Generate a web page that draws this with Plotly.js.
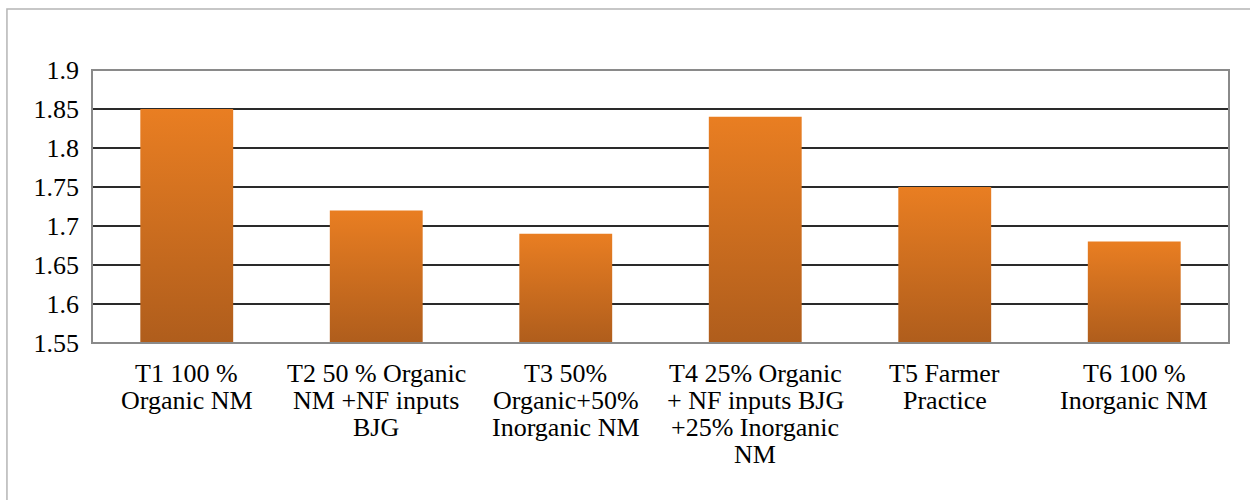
<!DOCTYPE html>
<html>
<head>
<meta charset="utf-8">
<script src="https://cdn.plot.ly/plotly-3.0.1.min.js"></script>
<style>
html,body{margin:0;padding:0;background:#fff;}
</style>
</head>
<body>
<div id="chart" style="width:1250px;height:500px"></div>
<script>
const categories = [
  "T1 100 %<br>Organic NM",
  "T2 50 % Organic<br>NM +NF inputs<br>BJG",
  "T3 50%<br>Organic+50%<br>Inorganic NM",
  "T4 25% Organic<br>+ NF inputs BJG<br>+25% Inorganic<br>NM",
  "T5 Farmer<br>Practice",
  "T6 100 %<br>Inorganic NM"
];
const values = [1.85, 1.72, 1.69, 1.84, 1.75, 1.68];
const yTicks = [1.55, 1.6, 1.65, 1.7, 1.75, 1.8, 1.85, 1.9];
const yTickLabels = ["1.55", "1.6", "1.65", "1.7", "1.75", "1.8", "1.85", "1.9"];
const yBase = 1.55;

const FAMILY = "Times New Roman";
function mkFont() { return {family: FAMILY, size: 26, color: "black"}; }

const trace = {
  type: "bar",
  x: categories,
  y: values.map(v => v - yBase),
  base: yBase,
  width: 0.49,
  marker: {color: "#CC6C20", line: {width: 0}},
  hoverinfo: "x+y"
};

// category labels drawn line by line (tight line spacing like the reference)
const annotations = [];
categories.forEach(function (cat) {
  cat.split("<br>").forEach(function (line, j) {
    annotations.push({
      x: cat, xref: "x", y: 0, yref: "paper",
      text: line, showarrow: false,
      xanchor: "center", yanchor: "middle",
      yshift: -(30 + 27 * j),
      font: mkFont()
    });
  });
});

const layout = {
  width: 1250, height: 500,
  margin: {l: 92, r: 21, t: 70, b: 157},
  paper_bgcolor: "#fff", plot_bgcolor: "#fff",
  showlegend: false,
  font: mkFont(),
  xaxis: {
    type: "category",
    showgrid: false, zeroline: false, showline: false,
    ticks: "", showticklabels: false,
    fixedrange: true
  },
  yaxis: {
    range: [1.55, 1.9],
    tickvals: yTicks, ticktext: yTickLabels,
    showgrid: true, gridcolor: "#2a2a2a", gridwidth: 1.6,
    zeroline: false, showline: false, ticks: "",
    tickfont: mkFont(), ticklabelstandoff: 12,
    fixedrange: true
  },
  annotations: annotations,
  shapes: [
    {type: "rect", xref: "paper", yref: "paper", x0: 0, x1: 1, y0: 0, y1: 1,
     line: {color: "#8a8a8a", width: 2}, fillcolor: "rgba(0,0,0,0)", layer: "above"},
    {type: "rect", xref: "paper", yref: "paper", x0: -0.0748, x1: 1.05, y0: -0.7, y1: 1.223,
     line: {color: "#b5b5b5", width: 1.5}, fillcolor: "rgba(0,0,0,0)", layer: "below"}
  ]
};

Plotly.newPlot("chart", [trace], layout).then(function (gd) {
  const svg = gd.querySelector("svg.main-svg");
  const ns = "http://www.w3.org/2000/svg";
  let defs = svg.querySelector("defs");
  if (!defs) { defs = document.createElementNS(ns, "defs"); svg.insertBefore(defs, svg.firstChild); }
  const grad = document.createElementNS(ns, "linearGradient");
  grad.setAttribute("id", "barGrad");
  grad.setAttribute("x1", "0"); grad.setAttribute("y1", "0");
  grad.setAttribute("x2", "0"); grad.setAttribute("y2", "1");
  [["0%", "#E97E22"], ["100%", "#AF5D1C"]].forEach(function (s) {
    const st = document.createElementNS(ns, "stop");
    st.setAttribute("offset", s[0]); st.setAttribute("stop-color", s[1]);
    grad.appendChild(st);
  });
  defs.appendChild(grad);
  gd.querySelectorAll(".barlayer .bars path").forEach(function (p) {
    p.style.fill = "url(#barGrad)";
    p.style.fillOpacity = 1;
  });
  gd.querySelectorAll("text").forEach(function (t) {
    t.style.setProperty("font-family", "'Liberation Serif', 'Times New Roman', serif", "important");
  });
  const mb = gd.querySelector(".modebar-container");
  if (mb) mb.style.display = "none";
});
</script>
</body>
</html>
